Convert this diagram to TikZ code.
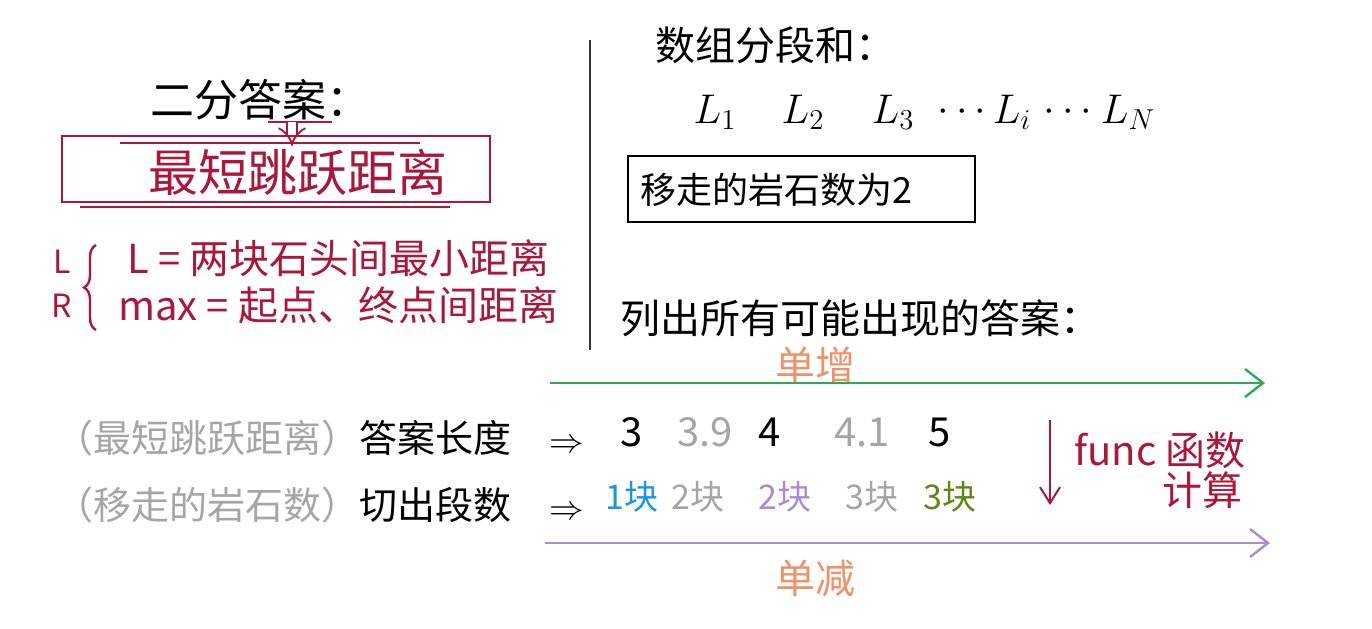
\documentclass[tikz,border=0pt]{standalone}
\usepackage{fontspec}
\setmainfont{Noto Sans CJK SC}
\usetikzlibrary{arrows.meta,decorations.pathreplacing}
\definecolor{crimson}{RGB}{172,22,58}
\definecolor{peach}{RGB}{240,145,105}
\definecolor{ashgray}{RGB}{165,165,165}
\definecolor{skyblue}{RGB}{25,150,225}
\definecolor{lilac}{RGB}{170,140,205}
\definecolor{olivegreen}{RGB}{95,135,20}
\definecolor{mint}{RGB}{45,170,85}
\tikzset{
  hw/.style={inner sep=0pt,font=\fontsize{20}{22}\selectfont},
  hwsmall/.style={inner sep=0pt,font=\fontsize{18}{20}\selectfont},
  hwrow/.style={inner sep=0pt,font=\fontsize{19}{21}\selectfont},
  num/.style={inner sep=0pt,font=\fontsize{20}{22}\selectfont},
  blk/.style={inner sep=0pt,font=\fontsize{17}{19}\selectfont},
  axisarrow/.style={line width=1.2pt,-{Straight Barb[length=9pt,width=14pt]}},
}
\begin{document}
\begin{tikzpicture}[x=0.5pt,y=-0.5pt]
  \useasboundingbox (0,0) rectangle (1372,628);
  % left: binary search on the answer
  \node[hw,font=\fontsize{22}{24}\selectfont] (title) at (260,100) {二分答案：};
  \coordinate (ulL) at (268,122); \coordinate (ulR) at (332,122);
  \draw[crimson,line width=1.4pt] (ulL)--(ulR);
  \coordinate (arrTop) at (292,122); \coordinate (arrBot) at (292,146);
  \draw[crimson,line width=0.9pt,double distance=4pt,-{Implies}] (arrTop)--(arrBot);
  \draw[crimson,line width=1pt] (62,136) rectangle (490,202);
  \draw[crimson,line width=0.6pt] (120,143)--(420,143) (80,207)--(450,207);
  \node[hw,text=crimson,font=\fontsize{25}{27}\selectfont] (target) at (298,172) {最短跳跃距离};
  \node[hw,text=crimson,font=\fontsize{16}{18}\selectfont] (lo) at (62,262) {L};
  \node[hw,text=crimson,font=\fontsize{16}{18}\selectfont] (hi) at (62,306) {R};
  \coordinate (brTop) at (96,245); \coordinate (brBot) at (96,330);
  \draw[crimson,line width=1.2pt,decorate,decoration={brace,amplitude=6pt}] (brBot)--(brTop);
  \node[hw,text=crimson,anchor=west] (lodef) at (127,258) {L = 两块石头间最小距离};
  \node[hw,text=crimson,anchor=west] (hidef) at (118,305) {max = 起点、终点间距离};
  \draw[black!80,line width=0.8pt] (590,40)--(590,350);
  % right: segment sums
  \node[hw,anchor=west] (segsum) at (655,45) {数组分段和：};
  \node[num] (l1) at (715,112) {$L_1$};
  \node[num] (l2) at (803,112) {$L_2$};
  \node[num] (l3) at (893,112) {$L_3$};
  \node[num] (d1) at (962,112) {$\cdots$};
  \node[num] (li) at (1012,112) {$L_i$};
  \node[num] (d2) at (1068,112) {$\cdots$};
  \node[num] (ln) at (1128,112) {$L_N$};
  \draw[black,line width=1pt] (628,156) rectangle (975,222);
  \node[hwsmall,anchor=west] (removed) at (640,190) {移走的岩石数为2};
  \node[hw,anchor=west] (list) at (620,318) {列出所有可能出现的答案：};
  % monotone axes
  \node[hw,text=peach] (incr) at (815,365) {单增};
  \coordinate (gS) at (550,383); \coordinate (gE) at (1265,383);
  \draw[mint,axisarrow] (gS)--(gE);
  \node[hwrow,anchor=west] (lenrow) at (55,438) {{\color{ashgray}（最短跳跃距离）}答案长度\quad$\Rightarrow$};
  \node[hwrow,anchor=west] (cntrow) at (55,505) {{\color{ashgray}（移走的岩石数）}切出段数\quad$\Rightarrow$};
  \node[num] (a1) at (632,432) {3};
  \node[num,text=ashgray] (a2) at (705,432) {3.9};
  \node[num] (a3) at (770,432) {4};
  \node[num,text=ashgray] (a4) at (862,432) {4.1};
  \node[num] (a5) at (940,432) {5};
  \node[blk,text=skyblue] (b1) at (632,497) {1块};
  \node[blk,text=ashgray] (b2) at (698,497) {2块};
  \node[blk,text=lilac] (b3) at (785,497) {2块};
  \node[blk,text=ashgray] (b4) at (872,497) {3块};
  \node[blk,text=olivegreen] (b5) at (950,497) {3块};
  \coordinate (fS) at (1050,420); \coordinate (fE) at (1050,505);
  \draw[crimson,line width=1pt,-{Straight Barb[length=8pt,width=10pt]}] (fS)--(fE);
  \node[hw,text=crimson] (func) at (1160,450) {func 函数};
  \node[hw,text=crimson] (calc) at (1202,490) {计算};
  \coordinate (pS) at (545,543); \coordinate (pE) at (1270,543);
  \draw[lilac,axisarrow] (pS)--(pE);
  \node[hw,text=peach] (decr) at (815,578) {单减};
\end{tikzpicture}
\end{document}
